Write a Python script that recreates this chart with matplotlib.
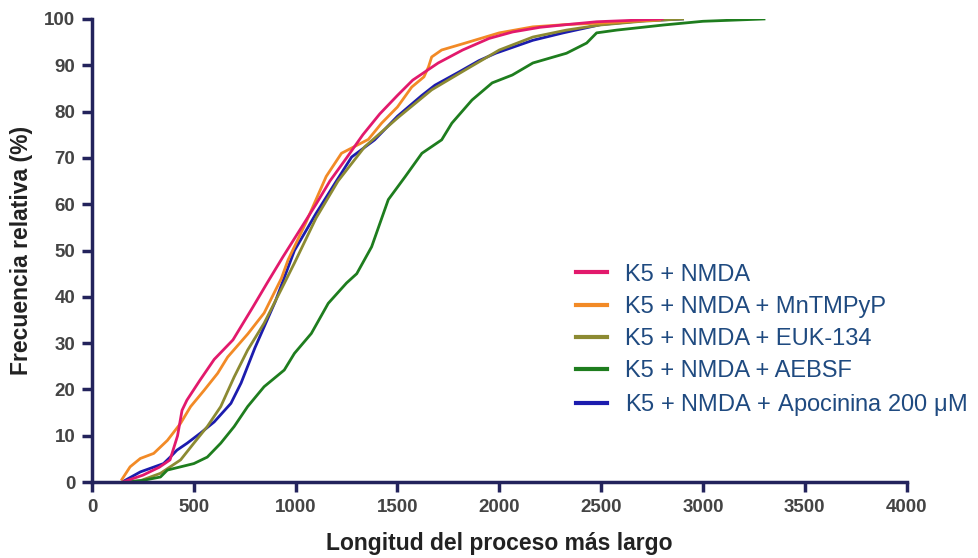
import matplotlib
matplotlib.use('Agg')
import matplotlib.pyplot as plt

# Cumulative distributions (x = length, y = % cumulative)
pink_x = [150, 250, 330, 383, 420, 442, 466, 530, 600, 692, 790, 860, 937, 1000, 1100, 1168, 1250, 1330, 1413, 1500, 1575, 1700, 1820, 1950, 2066, 2200, 2311, 2478, 2650, 2800]
pink_y = [0, 1.5, 3.2, 4.8, 10, 15.5, 17.7, 22, 26.5, 30.7, 37.8, 43, 48.6, 53, 60, 65, 70, 75, 79.5, 83.5, 86.8, 90.5, 93.3, 95.8, 97.2, 98.2, 98.7, 99.4, 99.7, 100]

orange_x = [147, 187, 237, 303, 370, 435, 484, 550, 617, 666, 765, 845, 930, 963, 1050, 1100, 1150, 1225, 1357, 1422, 1500, 1570, 1630, 1652, 1668, 1717, 1833, 2000, 2165, 2330, 2495, 2650, 2787]
orange_y = [0.6, 3.3, 5.1, 6.2, 9, 12.7, 16.3, 19.8, 23.5, 27, 32, 36.5, 44, 48, 56, 61, 66, 71, 74, 77.5, 81, 85.3, 87.5, 89.6, 91.8, 93.3, 94.8, 97, 98.3, 98.8, 99.1, 99.5, 99.8]

olive_x = [160, 237, 336, 435, 500, 566, 632, 698, 764, 845, 928, 994, 1100, 1208, 1339, 1505, 1668, 1833, 2000, 2165, 2330, 2495, 2700, 2900]
olive_y = [0, 0.3, 1.9, 4.8, 8.4, 12, 16.3, 22.7, 28.5, 34.3, 41.5, 47.3, 57, 65, 72.4, 78.8, 84.7, 89, 93.3, 96.1, 97.6, 98.7, 99.5, 100]

green_x = [170, 253, 336, 370, 435, 500, 566, 632, 698, 764, 845, 944, 994, 1077, 1160, 1250, 1300, 1373, 1455, 1537, 1620, 1717, 1767, 1866, 1965, 2064, 2165, 2330, 2429, 2478, 2577, 2807, 3000, 3300]
green_y = [0, 0.4, 1.1, 2.6, 3.3, 4.0, 5.4, 8.4, 12, 16.3, 20.6, 24.2, 27.8, 32.1, 38.6, 43, 45, 50.8, 61, 65.9, 71, 73.9, 77.5, 82.5, 86.2, 87.9, 90.5, 92.6, 94.8, 97, 97.6, 98.7, 99.5, 100]

blue_x = [147, 237, 351, 384, 417, 467, 533, 600, 682, 732, 800, 900, 994, 1100, 1200, 1275, 1388, 1500, 1620, 1684, 1800, 1900, 1982, 2165, 2314, 2500, 2700, 2900]
blue_y = [0, 2.2, 4, 5.4, 6.9, 8.4, 10.6, 13, 17, 21.4, 29, 39, 50, 58, 65, 70.2, 73.9, 79, 83.5, 85.7, 88.5, 91, 92.6, 95.4, 97, 98.8, 99.6, 100]

labels = ['K5 + NMDA', 'K5 + NMDA + MnTMPyP', 'K5 + NMDA + EUK-134',
          'K5 + NMDA + AEBSF', r'K5 + NMDA + Apocinina 200 $\mathrm{\mu}$M']
colors = ['#e2196c', '#f28a26', '#8c8a32', '#1e7d1e', '#1c1cae']

plt.rcParams['font.family'] = ['Liberation Sans', 'DejaVu Sans']
plt.rcParams['mathtext.fontset'] = 'custom'
plt.rcParams['mathtext.rm'] = 'Liberation Sans'

fig = plt.figure(figsize=(9.79, 5.58), dpi=100)
ax = fig.add_axes([0.094, 0.136, 0.832, 0.830])

axis_color = '#23235c'
lw = 2.0
h_blue, = ax.plot(blue_x, blue_y, color=colors[4], lw=lw)
h_olive, = ax.plot(olive_x, olive_y, color=colors[2], lw=lw)
h_green, = ax.plot(green_x, green_y, color=colors[3], lw=lw)
h_orange, = ax.plot(orange_x, orange_y, color=colors[1], lw=lw)
h_pink, = ax.plot(pink_x, pink_y, color=colors[0], lw=lw)

ax.set_xlim(0, 4000)
ax.set_ylim(0, 100)
ax.set_xticks(range(0, 4001, 500))
ax.set_yticks(range(0, 101, 10))

for side in ['top', 'right']:
    ax.spines[side].set_visible(False)
for side in ['left', 'bottom']:
    ax.spines[side].set_color(axis_color)
    ax.spines[side].set_linewidth(2.5)
ax.tick_params(direction='out', length=7, width=2.5, color=axis_color,
               labelsize=13.5, labelcolor='#444444', pad=5)
for t in ax.get_xticklabels() + ax.get_yticklabels():
    t.set_fontweight('bold')

ax.set_xlabel('Longitud del proceso más largo', fontsize=16.5, fontweight='bold',
              color='#222222', labelpad=12)
ax.set_ylabel('Frecuencia relativa (%)', fontsize=16.5, fontweight='bold',
              color='#222222', labelpad=8)

leg = ax.legend([h_pink, h_orange, h_olive, h_green, h_blue], labels,
                loc='upper left', bbox_to_anchor=(0.583, 0.492), frameon=False,
                fontsize=17, handlelength=1.3, handletextpad=0.75,
                labelspacing=0.43, borderaxespad=0)
for t in leg.get_texts():
    t.set_color('#1f4a80')
for h in leg.get_lines():
    h.set_linewidth(3)

plt.savefig('out.png', dpi=100, facecolor='white')
plt.close()
